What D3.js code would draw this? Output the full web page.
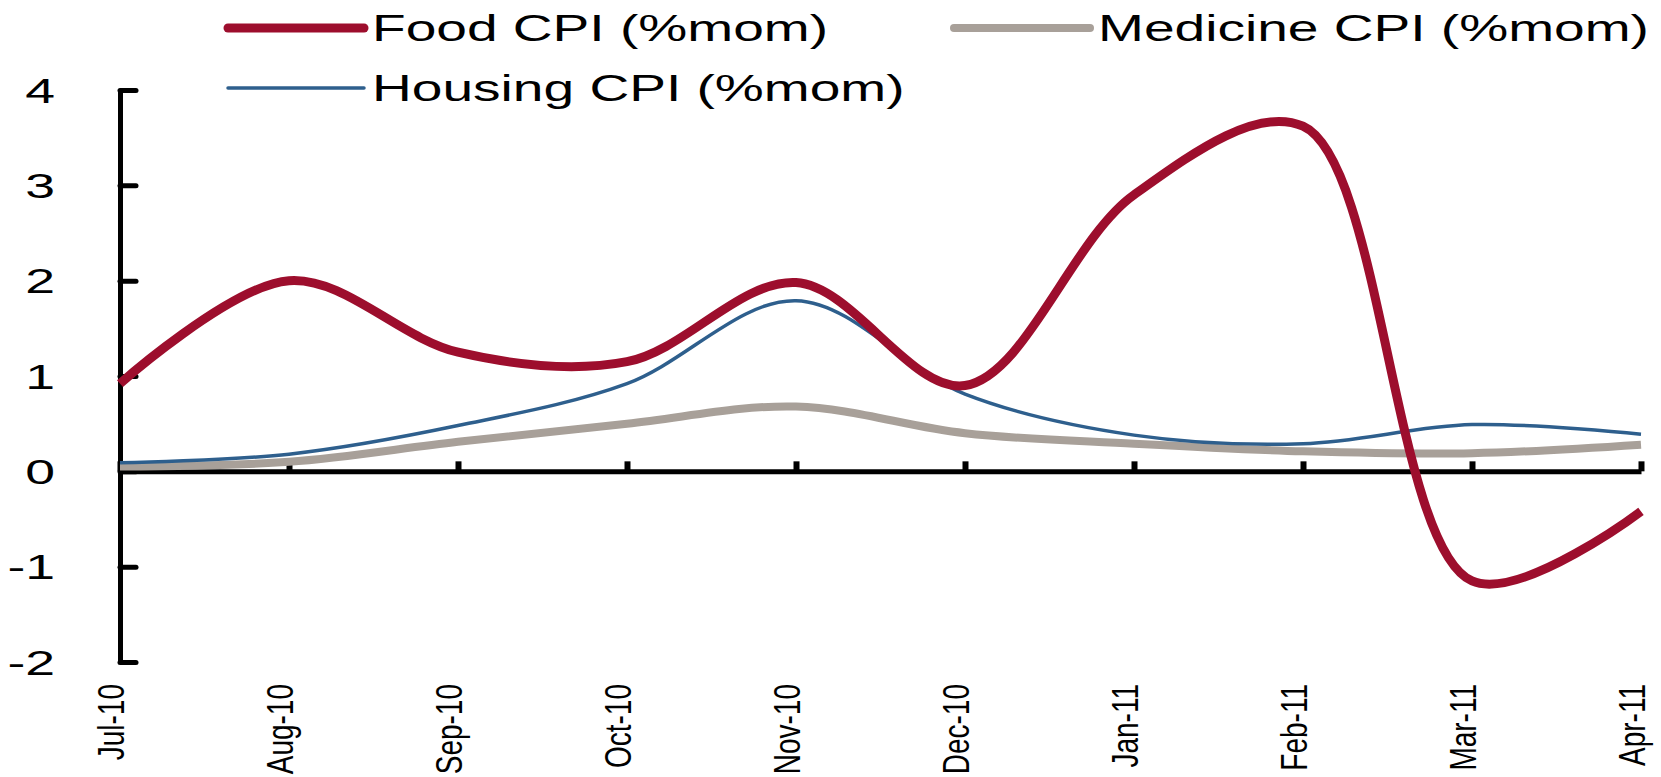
<!DOCTYPE html>
<html>
<head>
<meta charset="utf-8">
<script src="https://cdn.jsdelivr.net/npm/d3@7"></script>
<style>
  body { margin: 0; background: #fff; }
  svg { display: block; font-family: "Liberation Sans", Arial, sans-serif; }
</style>
</head>
<body>
<svg id="chart" width="1661" height="777"></svg>
<script>
// months on the x axis
const months = ["Jul-10", "Aug-10", "Sep-10", "Oct-10", "Nov-10", "Dec-10", "Jan-11", "Feb-11", "Mar-11", "Apr-11"];

// series values (%mom)
const food     = [0.92, 2.0, 1.25, 1.15, 1.98, 0.9, 2.9, 3.62, -1.15, -0.42];
const medicine = [0.05, 0.1, 0.31, 0.5, 0.68, 0.4, 0.29, 0.21, 0.19, 0.28];
const housing  = [0.09, 0.18, 0.48, 0.92, 1.79, 0.81, 0.38, 0.29, 0.49, 0.39];

const yTicks = [4, 3, 2, 1, 0, -1, -2];

const svg = d3.select("#chart");

// scales
const x = d3.scalePoint().domain(months).range([120, 1641]);
const y = d3.scaleLinear().domain([-2, 4]).range([662, 90]);

const stretch = 1.53; // the picture's text is drawn wide

// widen a text along its own direction
function widen(sel) {
  sel.each(function() {
    const w = this.getComputedTextLength();
    d3.select(this)
      .attr("textLength", w * stretch)
      .attr("lengthAdjust", "spacingAndGlyphs");
  });
}

// y axis, ticks point into the plot
const yAxis = d3.axisLeft(y)
    .tickValues(yTicks)
    .tickSizeInner(-16)
    .tickSizeOuter(0)
    .tickFormat(d => String(d));

const yG = svg.append("g")
    .attr("transform", "translate(120,0)")
    .call(yAxis);
yG.select(".domain").attr("stroke", "#000").attr("stroke-width", 5);
yG.selectAll(".tick line").attr("stroke", "#000").attr("stroke-width", 5).attr("stroke-linecap", "round");
yG.selectAll(".tick text")
    .attr("x", -65)
    .attr("dy", "0.35em")
    .attr("text-anchor", "end")
    .attr("font-size", 35)
    .attr("font-family", "Liberation Sans, Arial, sans-serif")
    .attr("fill", "#000")
    .call(widen);

// zero line with month ticks pointing up
const xAxis = d3.axisBottom(x)
    .tickSizeInner(-10)
    .tickSizeOuter(0)
    .tickFormat("");

const xG = svg.append("g")
    .attr("transform", `translate(0,${y(0)})`)
    .call(xAxis);
xG.select(".domain").attr("stroke", "#000").attr("stroke-width", 5);
xG.selectAll(".tick line").attr("stroke", "#000").attr("stroke-width", 6);

// rotated month labels under the plot
svg.append("g")
    .selectAll("text")
    .data(months)
    .join("text")
    .attr("transform", d => `translate(${x(d) - 9},684) scale(1.3,1) rotate(-90)`)
    .attr("text-anchor", "end")
    .attr("dy", "0.35em")
    .attr("font-size", 28)
    .attr("fill", "#000")
    .text(d => d);

// lines
const series = [
  {name: "Medicine CPI (%mom)", values: medicine, color: "#a8a099", width: 8},
  {name: "Housing CPI (%mom)", values: housing, color: "#2e5f8d", width: 3.5},
  {name: "Food CPI (%mom)", values: food, color: "#9d0e2d", width: 9}
];

const line = d3.line()
    .x((d, i) => x(months[i]))
    .y(d => y(d))
    .curve(d3.curveCatmullRom.alpha(0.5));

svg.append("g")
    .selectAll("path")
    .data(series)
    .join("path")
    .attr("d", d => line(d.values))
    .attr("fill", "none")
    .attr("stroke", d => d.color)
    .attr("stroke-width", d => d.width)
    .attr("stroke-linejoin", "round");

// legend
const legendPos = {
  "Food CPI (%mom)":     {x: 228, y: 28},
  "Medicine CPI (%mom)": {x: 954, y: 28},
  "Housing CPI (%mom)":  {x: 228, y: 88}
};

const leg = svg.append("g")
    .selectAll("g")
    .data(series)
    .join("g")
    .attr("transform", d => `translate(${legendPos[d.name].x},${legendPos[d.name].y})`);

leg.append("line")
    .attr("x1", 0).attr("x2", 136)
    .attr("stroke", d => d.color)
    .attr("stroke-width", d => d.width)
    .attr("stroke-linecap", "round");

leg.append("text")
    .attr("x", 144)
    .attr("dy", "0.35em")
    .attr("font-size", 36)
    .attr("fill", "#000")
    .text(d => d.name)
    .call(widen);
</script>
</body>
</html>
